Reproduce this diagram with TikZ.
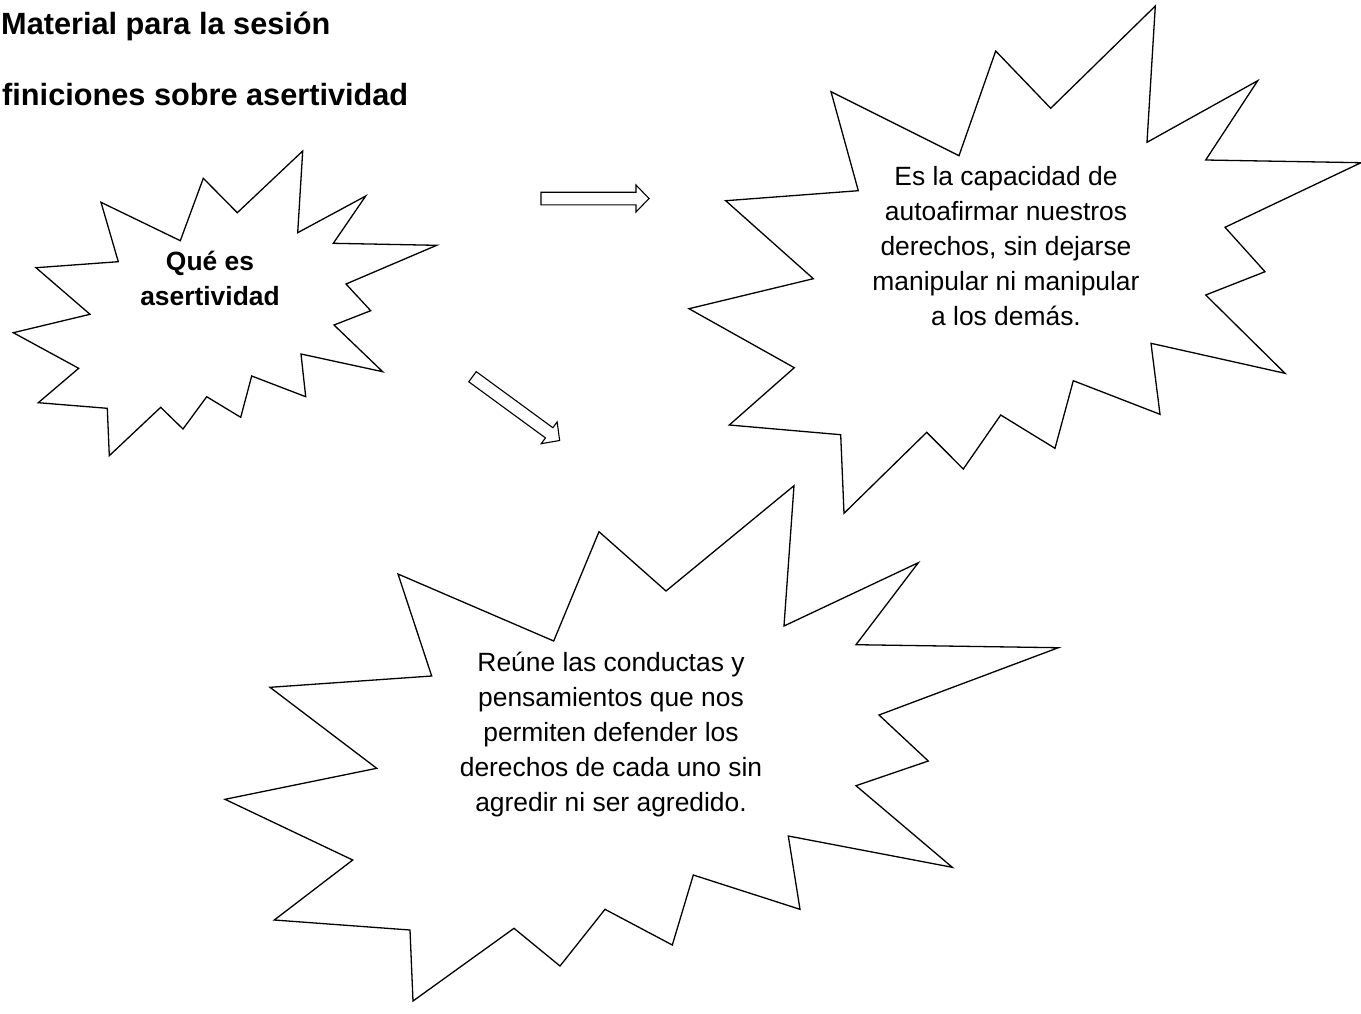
\documentclass[tikz,border=0pt]{standalone}
\usepackage{fontspec}
\setmainfont{Liberation Sans}
\begin{document}
\begin{tikzpicture}[x=1pt,y=-1pt,
  star/.style={draw=black, fill=white, line width=1.3pt, line join=miter},
  blockarrow/.style={draw=black, fill=white, line width=1.1pt, line join=miter},
  bodytxt/.style={font=\fontsize{26.4pt}{35pt}\selectfont, inner sep=0pt, anchor=base},
  boldtxt/.style={font=\fontsize{26.4pt}{35pt}\selectfont\bfseries, inner sep=0pt, anchor=base},
  titletxt/.style={font=\fontsize{30.7pt}{36pt}\selectfont\bfseries, inner sep=0pt, anchor=base west}]
\useasboundingbox (0,0) rectangle (1361,1013);

% titles
\node[titletxt] (t1) at (1,34) {Material para la sesión};
\node[titletxt] (t2) at (2,105) {finiciones sobre asertividad};

% star 1
\draw[star] (302.7,151) -- (297.7,232.7) -- (365.7,196) -- (333.3,243.3) -- (436.7,245.3)
  -- (346,284) -- (370.7,310.7) -- (334,325) -- (382.7,371.7) -- (301,354)
  -- (305.7,396.7) -- (251.7,376) -- (240.7,417.3) -- (206.7,396.7) -- (183,429)
  -- (160.7,407.3) -- (109.3,455.7) -- (107.3,408.3) -- (38.3,402.7) -- (78.7,368.3)
  -- (13.3,332.7) -- (90,314.3) -- (36,267.7) -- (118.3,261.7) -- (101,202.3)
  -- (180.3,240.7) -- (203.3,178.3) -- (237.3,212.7) -- cycle;

% star 2
\draw[star] (1155.3,6) -- (1147,142.3) -- (1257.7,80.7) -- (1205.7,160) -- (1361,162.7)
  -- (1225,227.3) -- (1265,271.7) -- (1205.7,295) -- (1285,373.3) -- (1151,343.3)
  -- (1160,414.3) -- (1073.3,380.7) -- (1055,448.3) -- (1000.7,415) -- (963.3,469)
  -- (926.7,432.3) -- (844,513.3) -- (840.7,434.7) -- (729.3,425) -- (794.3,367.7)
  -- (689,308.7) -- (813.3,278.7) -- (725.7,200.7) -- (858.3,190.7) -- (831,91.7)
  -- (959,155.7) -- (995.7,51) -- (1050.7,108.3) -- cycle;

% star 3
\draw[star] (794,485.7) -- (784,626) -- (918.3,562.7) -- (856,644.7) -- (1058.3,647.7)
  -- (879,715) -- (928.3,761) -- (856,785.7) -- (952.3,867.3) -- (788.3,836)
  -- (800,909.3) -- (693.3,875) -- (672.3,945) -- (605,909.3) -- (560,966)
  -- (514,928.3) -- (413,1001) -- (410,930) -- (274.3,920) -- (352.7,860)
  -- (225,799.3) -- (376.7,768.3) -- (270,687.3) -- (431.7,676) -- (398,574)
  -- (553.7,641) -- (599,531.7) -- (666,591) -- cycle;

% block arrows
\draw[blockarrow, shift={(541,198.5)}]
  (0,-6.3) -- (95,-6.3) -- (95,-13.5) -- (108,0) -- (95,13.5) -- (95,6.3) -- (0,6.3) -- cycle;
\draw[blockarrow, shift={(472.5,376.7)}, rotate=-36.2]
  (0,-6.3) -- (95,-6.3) -- (95,-13.5) -- (108,0) -- (95,13.5) -- (95,6.3) -- (0,6.3) -- cycle;

% star 1 text
\node[boldtxt] (a1) at (210,270.7) {Qué es};
\node[boldtxt] (a2) at (210,305.7) {asertividad};

% star 2 text
\node[bodytxt] (b1) at (1006,185.5) {Es la capacidad de};
\node[bodytxt] (b2) at (1006,220.5) {autoafirmar nuestros};
\node[bodytxt] (b3) at (1006,255.5) {derechos, sin dejarse};
\node[bodytxt] (b4) at (1006,290.5) {manipular ni manipular};
\node[bodytxt] (b5) at (1006,325.5) {a los demás.};

% star 3 text
\node[bodytxt] (c1) at (611,671.7) {Reúne las conductas y};
\node[bodytxt] (c2) at (611,706.7) {pensamientos que nos};
\node[bodytxt] (c3) at (611,741.7) {permiten defender los};
\node[bodytxt] (c4) at (611,776.7) {derechos de cada uno sin};
\node[bodytxt] (c5) at (611,811.7) {agredir ni ser agredido.};
\end{tikzpicture}
\end{document}
